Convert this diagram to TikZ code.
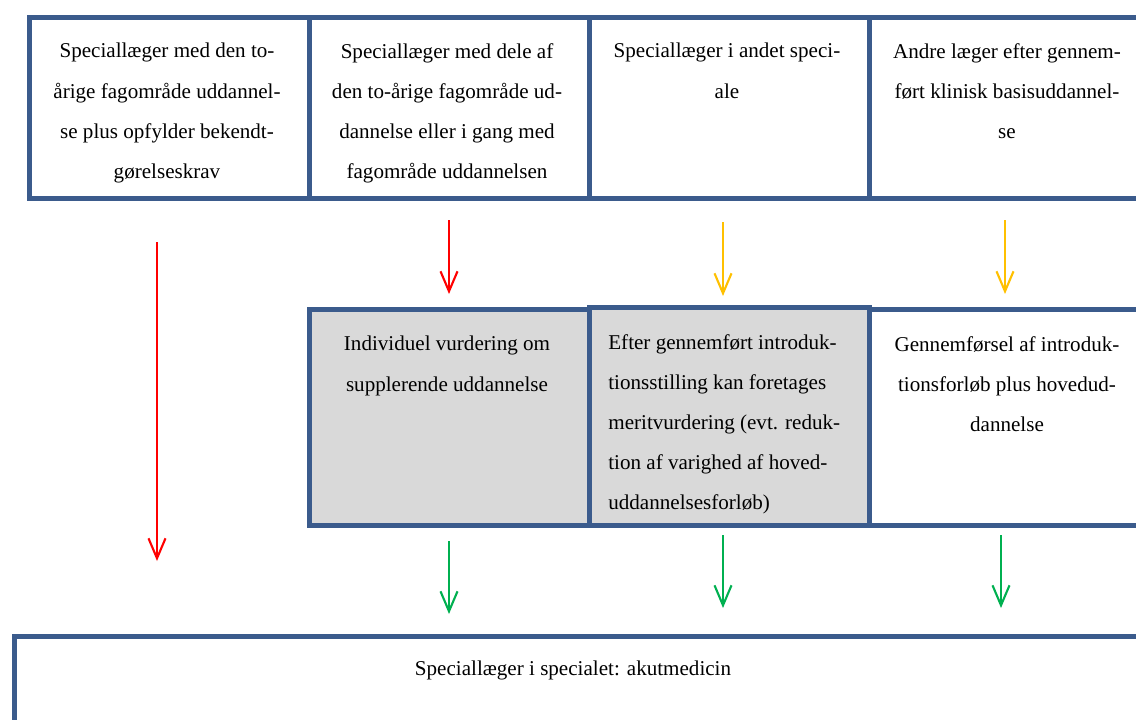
\documentclass[tikz,border=0pt]{standalone}
\usepackage{fontspec}
\setmainfont{Liberation Serif}
\usepackage{tikz}
\usetikzlibrary{arrows.meta}

\definecolor{frameblue}{RGB}{59,91,140}
\definecolor{boxgray}{RGB}{217,217,217}
\definecolor{arrowred}{RGB}{255,0,0}
\definecolor{arroworange}{RGB}{255,192,0}
\definecolor{arrowgreen}{RGB}{0,176,80}

\tikzset{
  box/.style={draw=frameblue, line width=2.6pt, anchor=north west, inner sep=0pt,
    minimum width=5.6cm, minimum height=3.62cm},
  txt/.style={font=\fontsize{12}{22.8}\selectfont, align=center, inner sep=0pt, anchor=north},
  flow/.style={line width=1.2pt, -{Straight Barb[length=0.4cm,width=0.34cm]}}
}

\begin{document}
\begin{tikzpicture}[x=0.02cm,y=-0.02cm]
\useasboundingbox (0,0) rectangle (1136,720);
\clip (0,0) rectangle (1136,720);
% upper row
\node[box] (top1) at (27,15) {};
\node[box] (top2) at (307,15) {};
\node[box] (top3) at (587,15) {};
\node[box] (top4) at (867,15) {};
\node[txt] (top1txt) at (167,43) {Speciallæger med den to-\\årige fagområde uddannel-\\se plus opfylder bekendt-\\gørelseskrav};
\node[txt] (top2txt) at (447,43) {Speciallæger med dele af\\den to-årige fagområde ud-\\dannelse eller i gang med\\fagområde uddannelsen};
\node[txt] (top3txt) at (727,43) {Speciallæger i andet speci-\\ale};
\node[txt] (top4txt) at (1007,43) {Andre læger efter gennem-\\ført klinisk basisuddannel-\\se};
% middle row
\node[box, fill=boxgray, minimum height=4.32cm] (mid1) at (307,307) {};
\node[box, fill=boxgray, minimum height=4.36cm] (mid2) at (587,305) {};
\node[box, minimum height=4.32cm] (mid3) at (867,307) {};
\node[txt] (mid1txt) at (447,336) {Individuel vurdering om\\supplerende uddannelse};
\node[txt, align=left, anchor=north west] (mid2txt) at (608,334) {Efter gennemført introduk-\\tionsstilling kan foretages\\meritvurdering (evt. reduk-\\tion af varighed af hoved-\\uddannelsesforløb)};
\node[txt] (mid3txt) at (1007,336) {Gennemførsel af introduk-\\tionsforløb plus hovedud-\\dannelse};
% bottom
\node[box, minimum width=22.8cm, minimum height=3cm] (spec) at (12,634) {};
\node[txt] (spectxt) at (573,661) {Speciallæger i specialet: akutmedicin};
% arrows
\foreach \n/\x/\ya/\yb in {r1/157/242/561, r2/449/220/294, o1/723/222/296, o2/1005/220/294,
    g1/449/541/614, g2/723/535/608, g3/1001/535/608}{
  \coordinate (\n a) at (\x,\ya);
  \coordinate (\n b) at (\x,\yb);
}
\draw[flow, arrowred] (r1a) -- (r1b);
\draw[flow, arrowred] (r2a) -- (r2b);
\draw[flow, arroworange] (o1a) -- (o1b);
\draw[flow, arroworange] (o2a) -- (o2b);
\draw[flow, arrowgreen] (g1a) -- (g1b);
\draw[flow, arrowgreen] (g2a) -- (g2b);
\draw[flow, arrowgreen] (g3a) -- (g3b);
\end{tikzpicture}
\end{document}
